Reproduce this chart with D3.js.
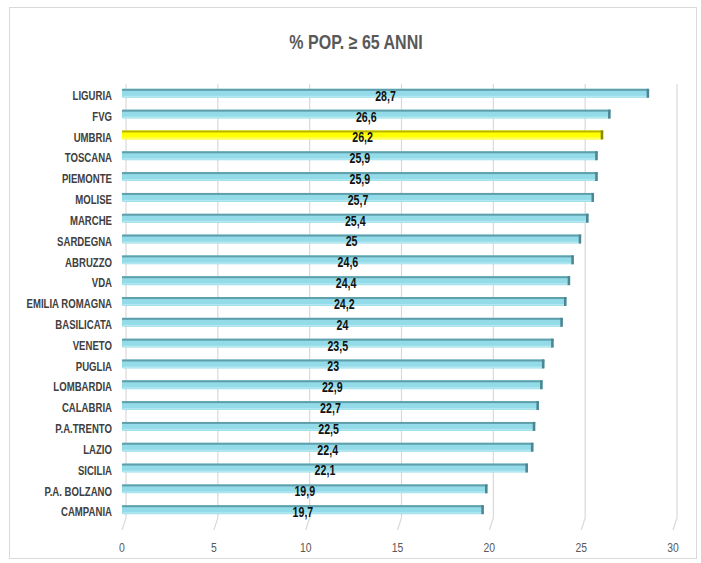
<!DOCTYPE html>
<head>
  <meta charset="utf-8">
  <title>% POP. 65 anni</title>
  <style>
  body { margin: 0; background: #fff; }
  .cat { font: bold 12px "Liberation Sans", Arial, sans-serif; fill: #404040; text-anchor: end; }
  .val { font: bold 14px "Liberation Sans", Arial, sans-serif; fill: #111; text-anchor: middle; }
  .tick-lbl { font: 13px "Liberation Sans", Arial, sans-serif; fill: #595959; text-anchor: middle; }
  .title { font: bold 20px "Liberation Sans", Arial, sans-serif; fill: #595959; text-anchor: middle; }
  </style>
</head>
<body>
<svg id="chart"></svg>

<script src="https://cdn.jsdelivr.net/npm/d3@7"></script>
<script>
"use strict";

// dati
var regioni = ["LIGURIA", "FVG", "UMBRIA", "TOSCANA", "PIEMONTE", "MOLISE", "MARCHE",
  "SARDEGNA", "ABRUZZO", "VDA", "EMILIA ROMAGNA", "BASILICATA", "VENETO", "PUGLIA",
  "LOMBARDIA", "CALABRIA", "P.A.TRENTO", "LAZIO", "SICILIA", "P.A. BOLZANO", "CAMPANIA"];
var valori = [28.7, 26.6, 26.2, 25.9, 25.9, 25.7, 25.4, 25, 24.6, 24.4, 24.2, 24,
  23.5, 23, 22.9, 22.7, 22.5, 22.4, 22.1, 19.9, 19.7];
var evidenziata = "UMBRIA";
var ticks = [0, 5, 10, 15, 20, 25, 30];
var titolo = "% POP. \u2265 65 ANNI";

var totalWidth = 701,
    totalHeight = 563;

var svg = d3.select("#chart")
    .attr("width", totalWidth)
    .attr("height", totalHeight);

// testo "stretto" (simula un font condensato)
function narrow(px, py, sx) {
  return "translate(" + px + "," + py + ") scale(" + sx + ",1)";
}

// cornice del grafico
svg.append("rect")
    .attr("x", 9.5).attr("y", 7.5)
    .attr("width", 687).attr("height", 551)
    .attr("fill", "none")
    .attr("stroke", "#d9d9d9");

var x = d3.scaleLinear()
    .domain([0, 30])
    .range([122, 673]);

var y = d3.scaleBand()
    .domain(regioni)
    .range([83, 520])
    .paddingInner(0.57)
    .paddingOuter(0.28);

var data = regioni.map(function(r, i) { return {regione: r, valore: valori[i]}; });

// griglia con effetto prospettico
var depth = 4, gTop = 84, gBottom = 518, gFloor = 530;
svg.append("g").selectAll("path")
    .data(ticks)
  .enter().append("path")
    .attr("d", function(t) {
      var xb = x(t) + depth;
      return "M" + xb + "," + gTop + "L" + xb + "," + gBottom + "L" + x(t) + "," + gFloor;
    })
    .attr("fill", "none")
    .attr("stroke", "#d9d9d9")
    .attr("stroke-width", 1.2);

// etichette asse x
svg.append("g").selectAll("text")
    .data(ticks)
  .enter().append("text")
    .attr("class", "tick-lbl")
    .attr("transform", function(t) { return narrow(x(t), 547, 0.8); })
    .attr("dy", "0.35em")
    .text(function(t) { return t; });

// barre
var bar = svg.append("g").selectAll("g")
    .data(data)
  .enter().append("g")
    .attr("transform", function(d) { return "translate(0," + y(d.regione) + ")"; });

var bh = y.bandwidth();

function colori(d) {
  if (d.regione === evidenziata) return {main: "#ffff00", top: "#b8b400", end: "#8a8600", low: "#fdfd66"};
  return {main: "#93dbe8", top: "#5f9fab", end: "#4d8590", low: "#b3e8f0"};
}

bar.append("rect")
    .attr("x", x(0))
    .attr("y", 0)
    .attr("width", function(d) { return x(d.valore) - x(0); })
    .attr("height", bh)
    .attr("rx", 1.5)
    .attr("fill", function(d) { return colori(d).main; });

bar.append("rect")
    .attr("x", x(0))
    .attr("y", 0)
    .attr("width", function(d) { return x(d.valore) - x(0); })
    .attr("height", 2)
    .attr("fill", function(d) { return colori(d).top; });

bar.append("rect")
    .attr("x", x(0) + 1)
    .attr("y", bh - 2)
    .attr("width", function(d) { return x(d.valore) - x(0) - 2; })
    .attr("height", 1.5)
    .attr("fill", function(d) { return colori(d).low; });

bar.append("rect")
    .attr("x", function(d) { return x(d.valore) - 2.5; })
    .attr("y", 0)
    .attr("width", 2.5)
    .attr("height", bh)
    .attr("fill", function(d) { return colori(d).end; });

// valori
bar.append("text")
    .attr("class", "val")
    .attr("transform", function(d) { return narrow((x(0) + x(d.valore)) / 2, bh / 2 + 2.5, 0.76); })
    .attr("dy", "0.35em")
    .text(function(d) { return String(d.valore).replace(".", ","); });

// etichette categorie
svg.append("g").selectAll("text")
    .data(data)
  .enter().append("text")
    .attr("class", "cat")
    .attr("transform", function(d) { return narrow(112, y(d.regione) + bh / 2 + 2.5, 0.8); })
    .attr("dy", "0.35em")
    .text(function(d) { return d.regione; });

// titolo
svg.append("text")
    .attr("class", "title")
    .attr("transform", narrow(356, 42, 0.8))
    .attr("dy", "0.35em")
    .text(titolo);
</script>
</body>
